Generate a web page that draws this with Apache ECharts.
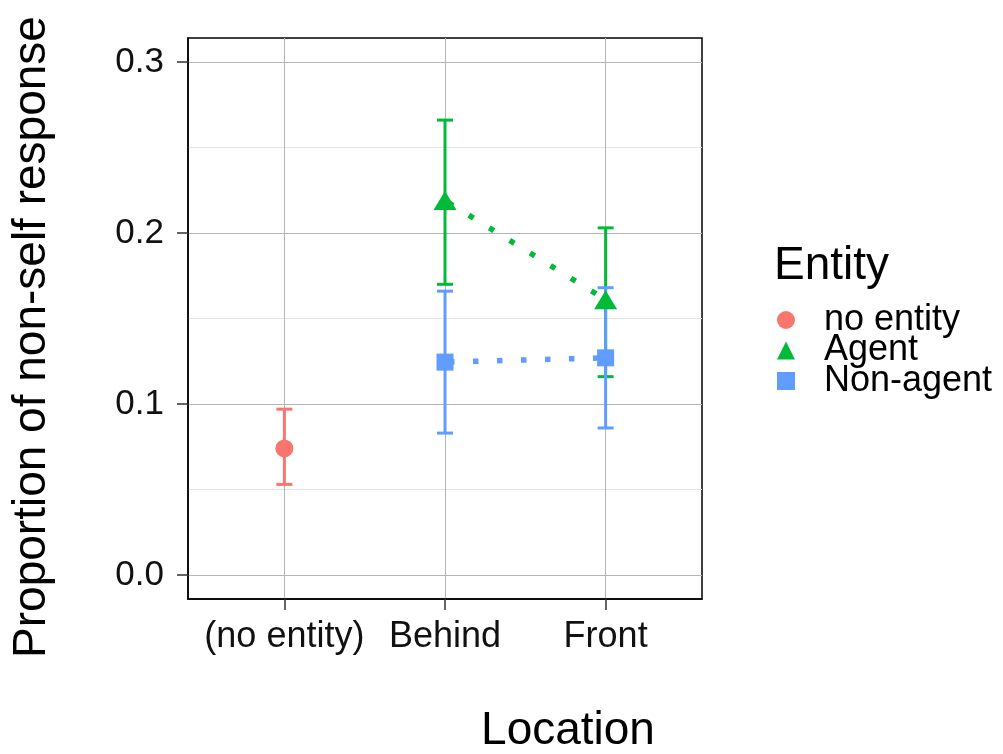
<!DOCTYPE html>
<html>
<head>
<meta charset="utf-8">
<title>Proportion of non-self response</title>
<script src="https://cdn.jsdelivr.net/npm/echarts@6/dist/echarts.min.js"></script>
<style>
  html, body { margin: 0; padding: 0; background: #fff; }
  #main { width: 1003px; height: 754px; }
</style>
</head>
<body>
<div id="main"></div>
<script>
// categories on the x axis (positions 1..3)
const locations = ['(no entity)', 'Behind', 'Front'];
const entities = ['no entity', 'Agent', 'Non-agent'];
const yTicks = [0, 0.1, 0.2, 0.3];
const yMinorTicks = [0.05, 0.15, 0.25];

// values
const noEntityX = [1];
const noEntityMean = [0.074];
const noEntityLow = [0.053];
const noEntityHigh = [0.097];

const agentX = [2, 3];
const agentMean = [0.219, 0.161];
const agentLow = [0.170, 0.116];
const agentHigh = [0.266, 0.203];

const nonAgentX = [2, 3];
const nonAgentMean = [0.1245, 0.127];
const nonAgentLow = [0.083, 0.086];
const nonAgentHigh = [0.166, 0.168];

const colors = ['#F8766D', '#00BA38', '#619CFF'];
const symbols = ['circle', 'triangle', 'rect'];
const symbolSizes = [18, [23, 19], 17];

function zip2(xs, ys) { return xs.map((x, i) => [x, ys[i]]); }
function zip3(xs, a, b) { return xs.map((x, i) => [x, a[i], b[i]]); }

// error bars: vertical segment with caps
function errorBar(color) {
  return function (params, api) {
    const x = api.value(0);
    const lo = api.coord([x, api.value(1)]);
    const hi = api.coord([x, api.value(2)]);
    const hw = 8;
    const style = { stroke: color, lineWidth: 3 };
    return {
      type: 'group',
      children: [
        { type: 'line', shape: { x1: lo[0], y1: lo[1], x2: hi[0], y2: hi[1] }, style: style },
        { type: 'line', shape: { x1: lo[0] - hw, y1: lo[1], x2: lo[0] + hw, y2: lo[1] }, style: style },
        { type: 'line', shape: { x1: hi[0] - hw, y1: hi[1], x2: hi[0] + hw, y2: hi[1] }, style: style }
      ]
    };
  };
}

const groups = [
  { x: noEntityX, mean: noEntityMean, low: noEntityLow, high: noEntityHigh, line: false },
  { x: agentX, mean: agentMean, low: agentLow, high: agentHigh, line: true },
  { x: nonAgentX, mean: nonAgentMean, low: nonAgentLow, high: nonAgentHigh, line: true }
];

const series = [];
groups.forEach((g, i) => {
  series.push({
    name: entities[i],
    type: 'custom',
    renderItem: errorBar(colors[i]),
    itemStyle: { color: colors[i] },
    encode: { x: 0, y: [1, 2] },
    data: zip3(g.x, g.low, g.high),
    silent: true
  });
  if (g.line) {
    series.push({
      name: entities[i],
      type: 'line',
      symbol: 'none',
      itemStyle: { color: colors[i] },
      lineStyle: { color: colors[i], width: 5.5, type: [5.5, 18.5], cap: 'butt', dashOffset: -4 },
      data: zip2(g.x, g.mean),
      silent: true
    });
  }
  series.push({
    name: entities[i],
    type: 'scatter',
    symbol: symbols[i],
    symbolSize: symbolSizes[i],
    itemStyle: { color: colors[i], opacity: 1 },
    data: zip2(g.x, g.mean),
    silent: true
  });
});

const chart = echarts.init(document.getElementById('main'));
chart.setOption({
  animation: false,
  textStyle: { fontFamily: 'Liberation Sans, Arial, sans-serif' },
  grid: {
    left: 188, right: 301, top: 38, bottom: 155,
    show: true, borderColor: '#000', borderWidth: 1.5, backgroundColor: '#fff'
  },
  xAxis: {
    type: 'value',
    min: 0.4,
    max: 3.6,
    axisLine: { show: true, onZero: false, lineStyle: { color: '#000', width: 1.5 } },
    axisTick: { show: true, customValues: [1, 2, 3], length: 11, lineStyle: { color: '#333', width: 1.5 } },
    axisLabel: {
      customValues: [1, 2, 3],
      formatter: v => locations[Math.round(v) - 1],
      fontSize: 36, color: '#111', margin: 20
    },
    splitLine: { show: true, lineStyle: { color: '#b5b5b5', width: 1 } }
  },
  yAxis: [{
    type: 'value',
    min: -0.014,
    max: 0.314,
    axisLine: { show: true, onZero: false, lineStyle: { color: '#000', width: 1.5 } },
    axisTick: { show: true, customValues: yTicks, length: 11, lineStyle: { color: '#333', width: 1.5 } },
    axisLabel: {
      customValues: yTicks,
      formatter: v => v.toFixed(1),
      fontSize: 35, color: '#111', margin: 24
    },
    splitLine: { show: true, lineStyle: { color: '#b5b5b5', width: 1 } }
  }, {
    type: 'value',
    min: -0.014,
    max: 0.314,
    position: 'left',
    axisLine: { show: false },
    axisTick: { show: false, customValues: yMinorTicks },
    axisLabel: { show: false, customValues: yMinorTicks },
    splitLine: { show: true, lineStyle: { color: '#e4e4e4', width: 1 } }
  }],
  legend: {
    orient: 'vertical',
    left: 777,
    top: 302,
    padding: 0,
    itemGap: -5.5,
    itemWidth: 18,
    itemHeight: 18,
    selectedMode: false,
    data: entities.map((n, i) => ({ name: n, icon: symbols[i] })),
    textStyle: { fontSize: 36, color: '#000', lineHeight: 30, padding: [0, 0, 0, 24] }
  },
  graphic: [
    {
      type: 'text', x: 32, y: 337, rotation: Math.PI / 2,
      style: { text: 'Proportion of non-self response', fontSize: 46, fill: '#000',
        fontFamily: 'Liberation Sans, Arial, sans-serif', align: 'center', verticalAlign: 'middle' }
    },
    {
      type: 'text', x: 568, y: 731,
      style: { text: 'Location', fontSize: 46, fill: '#000',
        fontFamily: 'Liberation Sans, Arial, sans-serif', align: 'center', verticalAlign: 'middle' }
    },
    {
      type: 'text', x: 774, y: 266,
      style: { text: 'Entity', fontSize: 46, fill: '#000',
        fontFamily: 'Liberation Sans, Arial, sans-serif', align: 'left', verticalAlign: 'middle' }
    }
  ],
  series: series
});
</script>
</body>
</html>
